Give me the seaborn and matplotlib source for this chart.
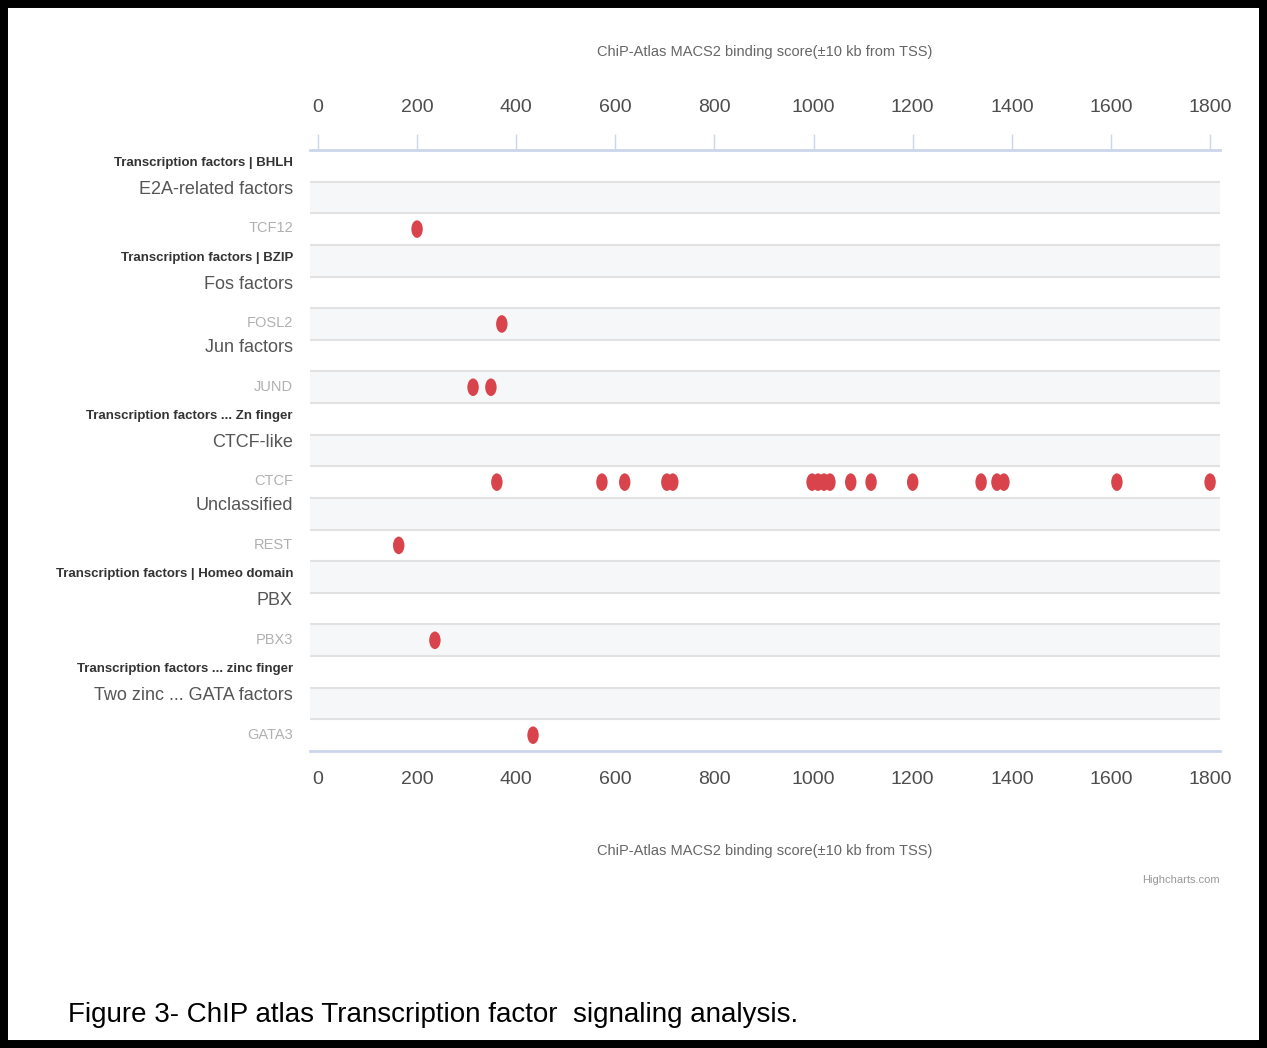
import numpy as np
import pandas as pd
import matplotlib
matplotlib.use("Agg")
import matplotlib.pyplot as plt
import matplotlib.patches as mpatches
from matplotlib.path import Path
from matplotlib.transforms import Affine2D, blended_transform_factory
from matplotlib.markers import MarkerStyle
import seaborn as sns

# row labels, top to bottom, and what kind of label each one is
row_labels = [
    "Transcription factors | BHLH", "E2A-related factors", "TCF12",
    "Transcription factors | BZIP", "Fos factors", "FOSL2",
    "Jun factors", "JUND",
    "Transcription factors ... Zn finger", "CTCF-like", "CTCF",
    "Unclassified", "REST",
    "Transcription factors | Homeo domain", "PBX", "PBX3",
    "Transcription factors ... zinc finger", "Two zinc ... GATA factors", "GATA3",
]
row_kinds = [
    "family", "sub", "gene",
    "family", "sub", "gene",
    "sub", "gene",
    "family", "sub", "gene",
    "sub", "gene",
    "family", "sub", "gene",
    "family", "sub", "gene",
]

# binding scores
tcf12 = [200]
fosl2 = [371]
jund = [313, 349]
ctcf = [361, 573, 619, 704, 716, 997, 1009, 1021, 1033, 1075, 1116,
        1200, 1338, 1370, 1384, 1612, 1800]
rest = [163]
pbx3 = [236]
gata3 = [434]

x_ticks = [0, 200, 400, 600, 800, 1000, 1200, 1400, 1600, 1800]
axis_title = "ChiP-Atlas MACS2 binding score(\u00b110 kb from TSS)"
caption = "Figure 3- ChIP atlas Transcription factor  signaling analysis."

scores = {"TCF12": tcf12, "FOSL2": fosl2, "JUND": jund, "CTCF": ctcf,
          "REST": rest, "PBX3": pbx3, "GATA3": gata3}
rows = []
for gene, vals in scores.items():
    for v in vals:
        rows.append({"gene": gene, "score": v, "row": row_labels.index(gene)})
df = pd.DataFrame(rows)

sns.set_style("white")
plt.rcParams["font.family"] = ["Liberation Sans", "DejaVu Sans"]

fig = plt.figure(figsize=(12.67, 10.48), dpi=100)
ax = fig.add_axes([310 / 1267, 1 - 751 / 1048, 910 / 1267, 601 / 1048])

n = len(row_labels)
# alternating bands + row grid lines
for i in range(n):
    if i % 2 == 1:
        ax.axhspan(i - 0.5, i + 0.5, color="#f6f7f9", zorder=0, lw=0)
    if i > 0:
        ax.axhline(i - 0.5, color="#e2e2e2", lw=1.5, zorder=1)

# elliptical marker (the source is stretched vertically)
ell = Path.unit_circle().transformed(Affine2D().scale(0.65, 1.0))
sns.scatterplot(data=df, x="score", y="row", ax=ax, marker=MarkerStyle(ell),
                s=160, color="#d9434b", edgecolor="none", zorder=3, legend=False)

ax.set_xlim(-16, 1820)
ax.set_ylim(n - 0.5, -0.5)
ax.set_yticks([])
ax.set_ylabel("")

for side in ["left", "right"]:
    ax.spines[side].set_visible(False)
for side in ["top", "bottom"]:
    ax.spines[side].set_color("#ccd6eb")
    ax.spines[side].set_linewidth(2)

ax.set_xticks(x_ticks)
ax.set_xticklabels([str(t) for t in x_ticks])
ax.tick_params(axis="x", direction="out", length=9.5, width=1, color="#ccd6eb",
               labelsize=14, labelcolor="#4d4d4d", pad=5)
ax.set_xlabel(axis_title, fontsize=10.5, color="#666666", labelpad=40)

top = ax.secondary_xaxis("top")
top.set_xticks(x_ticks)
top.set_xticklabels([str(t) for t in x_ticks])
top.spines["top"].set_visible(False)
top.tick_params(axis="x", direction="out", length=11.5, width=1, color="#ccd6eb",
                labelsize=14, labelcolor="#4d4d4d", pad=13)
top.set_xlabel(axis_title, fontsize=10.5, color="#666666", labelpad=31)

# category labels on the left
trans = blended_transform_factory(ax.transAxes, ax.transData)
styles = {
    "family": dict(fontsize=9.5, color="#333333", fontweight="bold", dy=-0.08),
    "sub": dict(fontsize=13, color="#555555", fontweight="normal", dy=-0.25),
    "gene": dict(fontsize=10.5, color="#b0b0b0", fontweight="normal", dy=-0.02),
}
for i, (lab, kind) in enumerate(zip(row_labels, row_kinds)):
    st = styles[kind]
    ax.text(-17 / 910, i + st["dy"], lab, transform=trans, ha="right", va="center",
            fontsize=st["fontsize"], color=st["color"], fontweight=st["fontweight"])

fig.text(1220 / 1267, 1 - 880 / 1048, "Highcharts.com", ha="right", va="center",
         fontsize=8, color="#999999")
fig.text(68 / 1267, 1 - 1015 / 1048, caption, ha="left", va="center",
         fontsize=20, color="black")

# black frame around the whole picture
fig.patches.append(mpatches.Rectangle((0, 0), 1, 1, transform=fig.transFigure,
                                      fill=False, edgecolor="black", lw=11.5))

fig.savefig("out.png", dpi=100)
